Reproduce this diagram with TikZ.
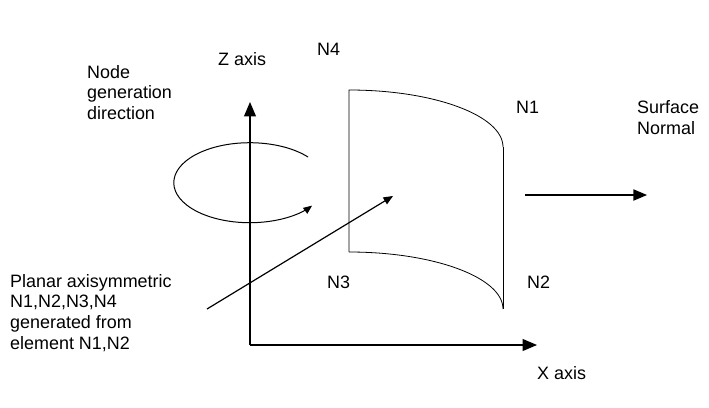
\documentclass[tikz,border=0pt]{standalone}
\usepackage{fontspec}
\setmainfont{Liberation Sans}
\usetikzlibrary{arrows}

\begin{document}
\begin{tikzpicture}[x=1bp,y=-1bp,font=\fontsize{18}{20.7}\selectfont,
  lbl/.style={anchor=base west,inner sep=0pt,align=left},
  axisline/.style={line width=2.4bp,-triangle 45},
  thinline/.style={line width=0.8bp}]
\useasboundingbox (0,0) rectangle (709,407);
% axes
\coordinate (O) at (250,345);
\coordinate (zTop) at (250,102);
\coordinate (xEnd) at (537,345);
\draw[axisline] (O) -- (zTop);
\draw[axisline] (O) -- (xEnd);
% surface corners
\coordinate (c4) at (349,90);
\coordinate (c1) at (503,147);
\coordinate (c3) at (349,252);
\coordinate (c2) at (503,309);
\draw[thinline] (c3) -- (c4) arc[start angle=-90,end angle=0,x radius=154,y radius=57];
\draw[thinline] (c1) -- (c2);
\draw[thinline] (c3) arc[start angle=-90,end angle=0,x radius=154,y radius=57];
% node generation direction
\draw[line width=1bp,-triangle 45] (308,157) arc[start angle=-40,end angle=-325,x radius=76,y radius=40];
% normal and generation arrows
\coordinate (nStart) at (525,195);
\coordinate (nEnd) at (647,195);
\draw[line width=2.2bp,-triangle 45] (nStart) -- (nEnd);
\coordinate (gStart) at (207,309);
\coordinate (gEnd) at (393,196);
\draw[line width=1.2bp,-triangle 45] (gStart) -- (gEnd);
% labels (multi-line ones sit on their last baseline)
\node[lbl] (zlab) at (218,65) {Z axis};
\node[lbl] (n4) at (317,55) {N4};
\node[lbl] (dirlab) at (87,119.5) {Node\\generation\\direction};
\node[lbl] (n1) at (516,113) {N1};
\node[lbl] (normlab) at (637,134) {Surface\\Normal};
\node[lbl] (n3) at (327,288) {N3};
\node[lbl] (n2) at (527,288) {N2};
\node[lbl] (planlab) at (10,349) {Planar axisymmetric\\N1,N2,N3,N4\\generated from\\element N1,N2};
\node[lbl] (xlab) at (537,379) {X axis};
\end{tikzpicture}
\end{document}
